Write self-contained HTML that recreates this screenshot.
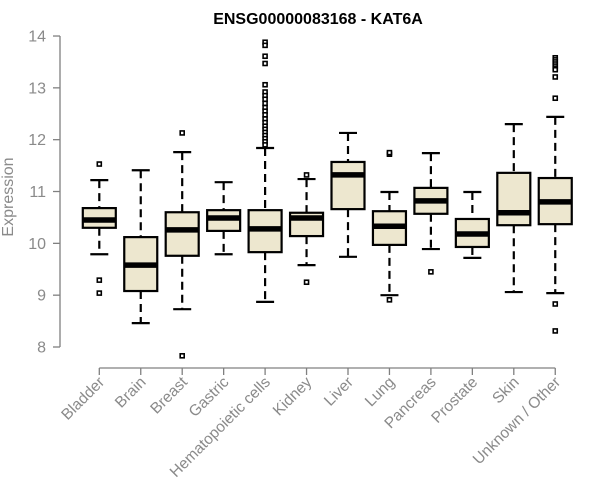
<!DOCTYPE html>
<html><head><meta charset="utf-8"><style>
body{margin:0;background:#fff}
svg{display:block;font-family:"Liberation Sans",Arial,sans-serif}
</style></head><body>
<svg id="chart" width="600" height="500" viewBox="0 0 600 500">
<text x="318" y="24" text-anchor="middle" font-weight="bold" font-size="16">ENSG00000083168 - KAT6A</text>
<text transform="translate(13,197) rotate(-90)" text-anchor="middle" font-size="16" fill="#8a8a8a">Expression</text>
<g id="axes"></g>
<g id="boxes"></g>
</svg>
<script>
const categories=["Bladder","Brain","Breast","Gastric","Hematopoietic cells","Kidney","Liver","Lung","Pancreas","Prostate","Skin","Unknown / Other"];
const lowerWhisker=[9.79,8.46,8.73,9.79,8.87,9.58,9.74,9.0,9.89,9.72,9.06,9.04];
const q1=[10.30,9.08,9.76,10.24,9.83,10.14,10.66,9.97,10.57,9.93,10.35,10.37];
const medians=[10.45,9.58,10.26,10.49,10.28,10.49,11.32,10.33,10.82,10.18,10.59,10.80];
const q3=[10.68,10.12,10.60,10.64,10.64,10.59,11.57,10.62,11.07,10.47,11.36,11.26];
const upperWhisker=[11.22,11.41,11.76,11.18,11.84,11.24,12.13,10.99,11.74,10.99,12.30,12.44];
const outliers=[[11.53,9.29,9.04],[],[12.13,7.83],[],[13.88,13.82,13.61,13.47,13.06,12.92,12.85,12.78,12.7,12.62,12.55,12.48,12.4,12.33,12.26,12.2,12.14,12.08,12.02,11.96,11.9],[11.32,9.25],[],[11.72,11.75,8.91],[9.45],[],[],[13.58,13.54,13.5,13.46,13.42,13.38,13.35,13.21,12.8,8.83,8.31]];
const yTicks=[8,9,10,11,12,13,14];
const NS="http://www.w3.org/2000/svg";
const y=v=>347-(v-8)*51.83;
const x=i=>99.3+41.45*i;
function mk(tag,attrs,parent){const e=document.createElementNS(NS,tag);for(const k in attrs)e.setAttribute(k,attrs[k]);parent.appendChild(e);return e;}
const axes=document.getElementById('axes'),boxes=document.getElementById('boxes');
let a=mk('line',{x1:60,x2:60,y1:y(14),y2:y(8),stroke:'#808080','stroke-width':1.3},axes);


yTicks.forEach(t=>{
 const l=mk('line',{x1:53,x2:60,y1:y(t),y2:y(t),stroke:'#808080','stroke-width':1.3},axes);
 
 
 const tx=mk('text',{x:46,y:y(t)+5.5,'text-anchor':'end','font-size':16,fill:'#8a8a8a'},axes);
 tx.textContent=t;
 
 
});
a=mk('line',{x1:x(0),x2:x(11),y1:368,y2:368,stroke:'#808080','stroke-width':1.3},axes);


categories.forEach((c,i)=>{
 const cx=x(i);
 const l=mk('line',{x1:cx,x2:cx,y1:368,y2:375,stroke:'#808080','stroke-width':1.3},axes);
 
 
 const tx=mk('text',{transform:`translate(${cx+6},383) rotate(-45)`,'text-anchor':'end','font-size':15.5,fill:'#8a8a8a'},axes);
 tx.textContent=c;
 
 
 const g=mk('g',{},boxes);
 
 
 mk('line',{x1:cx,x2:cx,y1:y(upperWhisker[i]),y2:y(q3[i]),stroke:'#000','stroke-width':2.2,'stroke-dasharray':'8,5'},g);
 mk('line',{x1:cx,x2:cx,y1:y(q1[i]),y2:y(lowerWhisker[i]),stroke:'#000','stroke-width':2.2,'stroke-dasharray':'8,5'},g);
 mk('line',{x1:cx-9,x2:cx+9,y1:y(upperWhisker[i]),y2:y(upperWhisker[i]),stroke:'#000','stroke-width':2.2},g);
 mk('line',{x1:cx-9,x2:cx+9,y1:y(lowerWhisker[i]),y2:y(lowerWhisker[i]),stroke:'#000','stroke-width':2.2},g);
 mk('rect',{x:cx-16.5,y:y(q3[i]),width:33,height:y(q1[i])-y(q3[i]),fill:'#ede7cf',stroke:'#000','stroke-width':2.2},g);
 mk('line',{x1:cx-16.5,x2:cx+16.5,y1:y(medians[i]),y2:y(medians[i]),stroke:'#000','stroke-width':5.5},g);
 outliers[i].forEach(o=>{
  const p=mk('rect',{x:cx-2,y:y(o)-2,width:4,height:4,fill:'#fff',stroke:'#000','stroke-width':1.6},g);
  
  
 });
});
</script>
</body></html>
